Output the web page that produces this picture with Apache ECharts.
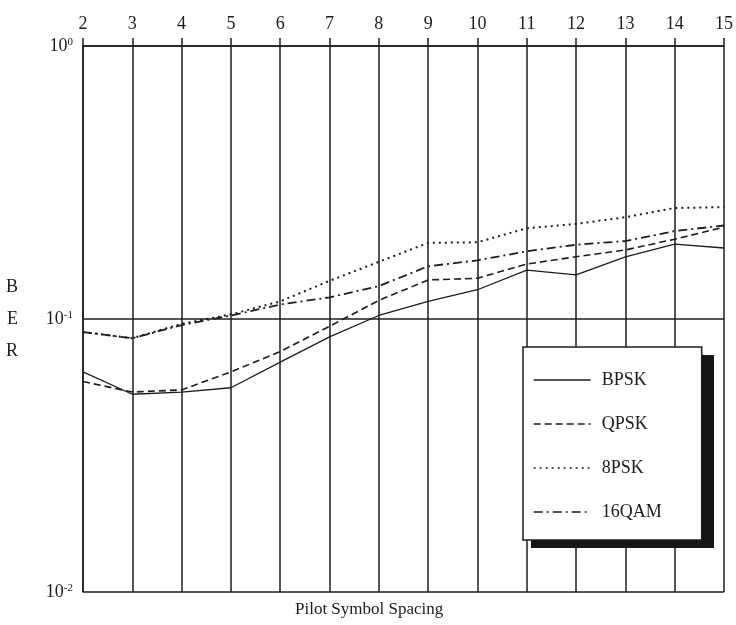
<!DOCTYPE html>
<html>
<head>
<meta charset="utf-8">
<script src="https://cdn.jsdelivr.net/npm/echarts@6/dist/echarts.min.js"></script>
<style>
  html, body { margin: 0; padding: 0; background: #fff; }
  #chart { width: 736px; height: 625px; }
</style>
</head>
<body>
<div id="chart"></div>
<script>
// pilot symbol spacing
const spacing = [2, 3, 4, 5, 6, 7, 8, 9, 10, 11, 12, 13, 14, 15]
// BER per modulation
const bpsk = [0.064, 0.053, 0.054, 0.056, 0.0695, 0.086, 0.103, 0.116, 0.128, 0.151, 0.145, 0.169, 0.188, 0.182]
const qpsk = [0.059, 0.054, 0.055, 0.064, 0.076, 0.094, 0.117, 0.139, 0.141, 0.159, 0.169, 0.179, 0.196, 0.217]
const psk8 = [0.0896, 0.085, 0.096, 0.104, 0.116, 0.138, 0.162, 0.19, 0.191, 0.215, 0.223, 0.236, 0.255, 0.257]
const qam16 = [0.0896, 0.085, 0.095, 0.103, 0.113, 0.12, 0.132, 0.156, 0.164, 0.177, 0.187, 0.193, 0.21, 0.22]
const names = ['BPSK', 'QPSK', '8PSK', '16QAM']

const font = 'Liberation Serif'
const ink = '#1c1c1c'

const chart = echarts.init(document.getElementById('chart'))

function series(name, data, type, width) {
  return {
    name: name,
    type: 'line',
    data: spacing.map((x, i) => [x, data[i]]),
    symbol: 'none',
    itemStyle: { color: ink },
    lineStyle: { color: ink, width: width, type: type }
  }
}

chart.setOption({
  backgroundColor: '#fff',
  animation: false,
  grid: { left: 83, right: 3, top: 46, bottom: 33 },
  title: {
    text: 'Pilot Symbol Spacing',
    left: 290,
    top: 596,
    textStyle: { fontFamily: font, fontSize: 17, fontWeight: 'normal', color: ink }
  },
  xAxis: {
    type: 'value',
    position: 'top',
    min: 2,
    max: 15,
    interval: 1,
    axisLine: { show: true, lineStyle: { color: ink, width: 1.5 } },
    axisTick: { show: true, inside: false, length: 8, lineStyle: { color: ink, width: 1.5 } },
    axisLabel: { fontFamily: font, fontSize: 18, color: ink, margin: 13 },
    splitLine: { show: true, lineStyle: { color: ink, width: 1.5 } }
  },
  yAxis: {
    type: 'log',
    logBase: 10,
    min: 0.01,
    max: 1,
    name: 'B\nE\nR',
    nameLocation: 'middle',
    nameRotate: 0,
    nameGap: 65,
    nameTextStyle: { fontFamily: font, fontSize: 18, color: ink, lineHeight: 32 },
    axisLine: { show: true, lineStyle: { color: ink, width: 1.5 } },
    axisTick: { show: false },
    minorTick: { show: false },
    axisLabel: {
      margin: 10,
      formatter: function (v) {
        const e = Math.round(Math.log10(v))
        return '{b|10}{s|' + e + '}'
      },
      rich: {
        b: { fontFamily: font, fontSize: 18, color: ink },
        s: { fontFamily: font, fontSize: 11, color: ink, verticalAlign: 'top', padding: [0, 0, 8, 0] }
      }
    },
    splitLine: { show: true, lineStyle: { color: ink, width: 1.5 } }
  },
  legend: {
    orient: 'vertical',
    left: 523,
    top: 347,
    data: names,
    padding: [23, 40, 18, 10],
    itemWidth: 57,
    itemHeight: 14,
    itemGap: 24,
    backgroundColor: '#fff',
    borderColor: ink,
    borderWidth: 1.5,
    itemStyle: { color: 'rgba(0,0,0,0)', borderWidth: 0 },
    lineStyle: { color: ink, width: 1.4, opacity: 1 },
    textStyle: { fontFamily: font, fontSize: 18, color: ink, lineHeight: 20, padding: [0, 0, 0, 6] },
    z: 6
  },
  graphic: [{
    type: 'rect',
    shape: { x: 531, y: 355, width: 183, height: 193 },
    style: { fill: '#151515' },
    z: 5
  }],
  series: [
    series('BPSK', bpsk, 'solid', 1.3),
    series('QPSK', qpsk, [7, 4], 1.6),
    series('8PSK', psk8, [2, 4], 2),
    series('16QAM', qam16, [9, 4, 2, 4], 1.8)
  ]
})
</script>
</body>
</html>
